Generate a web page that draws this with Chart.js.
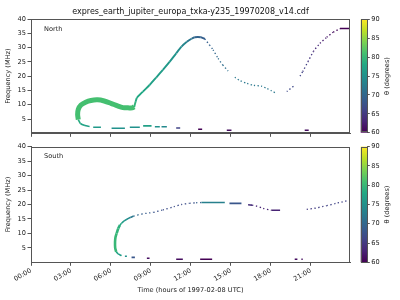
<!DOCTYPE html>
<html><head><meta charset="utf-8">
<script src="https://cdn.jsdelivr.net/npm/chart.js@4"></script>
<style>
html,body{margin:0;padding:0;background:#fff;width:400px;height:300px;overflow:hidden}
canvas{position:absolute}
</style></head><body>
<canvas id="cN" style="left:0;top:0" width="355" height="140"></canvas>
<canvas id="bN" style="left:355px;top:0" width="45" height="150"></canvas>
<canvas id="cS" style="left:0;top:140px" width="355" height="160"></canvas>
<canvas id="bS" style="left:355px;top:140px" width="45" height="160"></canvas>
<script>
// ---------- data (time in hours, frequency in MHz, theta in degrees) ----------
const titleText = 'expres_earth_jupiter_europa_txka-y235_19970208_v14.cdf';
const timeTickValues = [0, 3, 6, 9, 12, 15, 18, 21];
const timeTickLabels = ['00:00', '03:00', '06:00', '09:00', '12:00', '15:00', '18:00', '21:00'];
const freqTicks = [5, 10, 15, 20, 25, 30, 35, 40];
const thetaTicks = [60, 65, 70, 75, 80, 85, 90];

// North: thick loop
const nLoopTime  = [3.55, 3.5, 3.55, 3.75, 4.1, 4.5, 5.0, 5.5, 6.0, 6.5, 6.9, 7.3, 7.6, 7.75];
const nLoopFreq  = [4.8, 6.6, 8.4, 9.9, 10.9, 11.5, 11.7, 11.3, 10.5, 9.6, 9.0, 8.9, 8.9, 9.3];
const nLoopTheta = [81, 81, 81, 81, 81, 81, 81, 81, 81, 81, 81, 81, 81, 81];
// North: rising arc and peak
const nArcTime  = [7.75, 7.85, 7.95, 8.4, 8.9, 9.4, 9.9, 10.4, 10.9, 11.3, 11.7, 12.05, 12.3, 12.75, 13.05];
const nArcFreq  = [9.2, 11.0, 12.4, 14.6, 16.9, 19.5, 22.2, 25.0, 28.0, 30.3, 32.0, 33.1, 33.6, 33.6, 33.0];
const nArcTheta = [80, 79, 78, 78, 77, 77, 76, 76, 75, 74, 73, 71, 70, 69, 69];
// North: sparse (dotted) descent and right-hand rise
const nDotTime  = [13.05, 13.4, 13.67, 14.05, 14.4, 14.8, null, 15.3, 15.7, 16.2, 16.7, 17.3, 17.7, 18.05, 18.4, null, 19.2, 19.8, null, 20.2, 20.4, 20.8, 21.2, 21.7, 22.2, 22.7, 23.2];
const nDotFreq  = [33.0, 30.9, 29.2, 26.2, 23.9, 21.8, null, 19.6, 18.4, 17.5, 16.8, 16.5, 15.7, 14.9, 14.0, null, 14.6, 16.8, null, 20.0, 21.6, 25.1, 28.6, 31.5, 33.6, 35.4, 36.6];
const nDotTheta = [69, 69, 70, 70, 71, 71, null, 72, 72, 72, 72, 72, 72, 72, 72, null, 67, 66, null, 66, 66, 65, 64, 63, 62, 61, 60];
// North: low-frequency tail and short dashes, top-right flat
const nDashTime  = [3.55, 3.7, 4.05, 4.4, null, 4.67, 5.25, null, 6.05, 7.05, null, 7.42, 8.17, null, 8.42, 9.05, null, 9.3, 9.67, null, 9.8, 10.2, null, 10.9, 11.2, null, 12.55, 12.85, null, 14.7, 15.05, null, 20.55, 20.85, null, 23.2, 23.9];
const nDashFreq  = [4.8, 3.5, 2.7, 2.4, null, 2.1, 2.1, null, 1.75, 1.75, null, 2.1, 2.1, null, 2.6, 2.6, null, 2.3, 2.3, null, 2.3, 2.3, null, 1.85, 1.85, null, 1.4, 1.4, null, 1.05, 1.05, null, 1.05, 1.05, null, 36.7, 36.7];
const nDashTheta = [79, 78, 77, 77, null, 76, 76, null, 75, 75, null, 75, 75, null, 77, 77, null, 75, 75, null, 74, 74, null, 66, 66, null, 60, 60, null, 61, 61, null, 61, 61, null, 60, 60];

// South: thick vertical part
const sThickTime  = [6.4, 6.32, 6.31, 6.34, 6.43, 6.55, 6.68];
const sThickFreq  = [3.6, 5.0, 7.0, 8.6, 10.0, 11.7, 12.9];
const sThickTheta = [80, 80, 80, 80, 80, 79, 79];
// South: solid thin pieces
const sSolidTime  = [6.4, 6.55, 6.8, null, 7.05, 7.2, null, 7.55, 7.8, null, 8.7, 8.9, null, 10.9, 11.4, null, 12.7, 13.6, null, 19.8, 20.0, null, 20.3, 20.4, null, 6.68, 6.8, 7.0, 7.2, 7.45, 7.7, null, 12.8, 14.55, null, 14.9, 15.8, null, 16.3, 16.6, null, 18.05, 18.7];
const sSolidFreq  = [3.6, 2.9, 2.3, null, 2.07, 2.07, null, 1.7, 1.7, null, 1.4, 1.4, null, 1.05, 1.05, null, 1.05, 1.05, null, 1.05, 1.05, null, 1.05, 1.05, null, 12.9, 13.5, 14.3, 14.9, 15.5, 16.0, null, 20.7, 20.7, null, 20.4, 20.4, null, 19.9, 19.8, null, 18.0, 18.0];
const sSolidTheta = [78, 77, 76, null, 75, 75, null, 68, 68, null, 61, 61, null, 61, 61, null, 60, 60, null, 61, 61, null, 61, 61, null, 79, 77, 76, 75, 73, 71, null, 73, 73, null, 68, 68, null, 64, 64, null, 63, 63];
// South: dotted pieces
const sDotTime  = [7.7, 8.3, 9.2, 9.9, 10.7, 11.3, 11.9, 12.4, 12.8, null, 16.6, 16.9, 17.4, 18.05, null, 20.7, 21.3, 22.2, 22.9, 23.95];
const sDotFreq  = [16.0, 16.7, 17.3, 18.1, 19.2, 20.0, 20.4, 20.6, 20.7, null, 19.8, 19.5, 18.7, 18.0, null, 18.3, 18.7, 19.6, 20.4, 21.5];
const sDotTheta = [71, 69, 68, 67, 67, 67, 67, 68, 70, null, 64, 63, 63, 63, null, 65, 65, 66, 66, 66];

// ---------- helpers ----------
const VIR = ['#440154','#482475','#414487','#355f8d','#2a788e','#21918c','#22a884','#44bf70','#7ad151','#bddf26','#fde725'];
function hex(c){return [parseInt(c.substr(1,2),16),parseInt(c.substr(3,2),16),parseInt(c.substr(5,2),16)];}
function viridis(t){
  t = Math.max(0, Math.min(1, t));
  const p = t * 10, i = Math.min(9, Math.floor(p)), f = p - i;
  const a = hex(VIR[i]), b = hex(VIR[i+1]);
  return 'rgb(' + a.map((v,k)=>Math.round(v + (b[k]-v)*f)).join(',') + ')';
}
function thetaColor(th){ return viridis((th - 60) / 30); }
function pts(ts, fs){ return ts.map((t,i)=>({x: t, y: fs[i]})); }
function ds(ts, fs, ths, width, dash){
  return {
    data: pts(ts, fs), thetas: ths, borderWidth: width, borderDash: dash || [],
    pointRadius: 0, spanGaps: false, tension: 0.25, fill: false,
    borderColor: thetaColor(ths[0]),
    segment: { borderColor: ctx => {
      const a = ths[ctx.p0DataIndex], b = ths[ctx.p1DataIndex];
      return thetaColor(((a == null ? b : a) + (b == null ? a : b)) / 2);
    } }
  };
}
const FONT = 'DejaVu Sans';
const AX = '#555';
const boxPlugin = { id: 'box', afterDraw(c){ const a = c.chartArea, x = c.ctx; x.save(); x.strokeStyle = AX; x.lineWidth = 1; x.strokeRect(Math.round(a.left)+0.5, Math.round(a.top)+0.5, Math.round(a.right-a.left)-1, Math.round(a.bottom-a.top)-1); x.restore(); } };
const labelPlugin = { id: 'panelLabel', afterDraw(c, args, o){ if(!o.text) return; const a = c.chartArea, x = c.ctx; x.save(); x.font = '6.6px "' + FONT + '"'; x.fillStyle = '#222'; x.textBaseline = 'middle'; x.fillText(o.text, a.left + 13, a.top + 10); x.restore(); } };

function mainChart(id, datasets, label, isBottom){
  return new Chart(document.getElementById(id), {
    type: 'line',
    data: { datasets },
    options: {
      responsive: false, animation: false,
      layout: { padding: { left: 0, right: 5, top: isBottom ? 6.7 : 0, bottom: 0 } },
      plugins: {
        legend: { display: false }, tooltip: { enabled: false },
        title: { display: !isBottom, text: titleText, fullSize: false, color: '#111', font: { family: FONT, size: 8, weight: 'normal' }, padding: { top: 7.6, bottom: 1.8 } },
        panelLabel: { text: label }
      },
      scales: {
        x: {
          type: 'linear', min: 0, max: 23.95,
          afterBuildTicks: s => { s.ticks = timeTickValues.map(v => ({ value: v })); },
          afterFit: s => { s.height = isBottom ? 37.7 : 6.7; s.paddingLeft = 0; s.paddingRight = 0; },
          grid: { display: true, drawOnChartArea: false, drawTicks: true, tickLength: 3.5, color: AX },
          border: { display: true, color: AX, width: 1 },
          ticks: { display: isBottom, autoSkip: false, maxRotation: 30, minRotation: 30, padding: 1, color: '#222', font: { family: FONT, size: 6.6 },
                   callback: (v) => { const i = timeTickValues.indexOf(v); return i < 0 ? '' : timeTickLabels[i]; } },
          title: { display: isBottom, text: 'Time (hours of 1997-02-08 UTC)', color: '#222', font: { family: FONT, size: 6.6 }, padding: { top: 0, bottom: 6 } }
        },
        y: {
          min: 0, max: 40,
          afterBuildTicks: s => { s.ticks = freqTicks.map(v => ({ value: v })); },
          afterFit: s => { s.width = 31; },
          grid: { display: true, drawOnChartArea: false, drawTicks: true, tickLength: 3.5, color: AX },
          border: { display: true, color: AX, width: 1 },
          ticks: { padding: 1.5, color: '#222', font: { family: FONT, size: 6.6 } },
          title: { display: true, text: 'Frequency (MHz)', color: '#222', font: { family: FONT, size: 6.6 }, padding: { top: 4, bottom: 0 } }
        }
      }
    },
    plugins: [boxPlugin, labelPlugin]
  });
}

const gradPlugin = { id: 'cbar', beforeDatasetsDraw(c){ const a = c.chartArea, x = c.ctx; const g = x.createLinearGradient(0, a.bottom, 0, a.top); VIR.forEach((col, i) => g.addColorStop(i / 10, col)); x.save(); x.fillStyle = g; x.fillRect(a.left, a.top, a.right - a.left, a.bottom - a.top); x.restore(); },
  afterDraw(c){ const a = c.chartArea, x = c.ctx; x.save(); x.font = '6.6px "' + FONT + '"'; x.fillStyle = '#222'; x.translate(32.5, (a.top + a.bottom) / 2); x.rotate(-Math.PI / 2); x.textAlign = 'center'; x.textBaseline = 'middle'; x.fillText('\u03b8 (degrees)', 0, 0); x.restore(); } };

function colorbar(id, isBottom){
  const top = isBottom ? 6.7 : 19.3, bottom = isBottom ? 37.7 : 17.3;
  return new Chart(document.getElementById(id), {
    type: 'scatter',
    data: { datasets: [{ data: [] }] },
    options: {
      responsive: false, animation: false,
      layout: { padding: { left: 5.7, right: 0, top, bottom } },
      plugins: { legend: { display: false }, tooltip: { enabled: false } },
      scales: {
        x: { display: false, min: 0, max: 1 },
        y: {
          position: 'right', min: 60, max: 90,
          afterBuildTicks: s => { s.ticks = thetaTicks.map(v => ({ value: v })); },
          afterFit: s => { s.width = 45 - 12.3; },
          grid: { display: true, drawOnChartArea: false, drawTicks: true, tickLength: 2.5, color: AX },
          border: { display: true, color: AX, width: 1 },
          ticks: { padding: 1.5, color: '#222', font: { family: FONT, size: 6.6 } }
        }
      }
    },
    plugins: [gradPlugin, boxPlugin]
  });
}

mainChart('cN', [
  ds(nDashTime, nDashFreq, nDashTheta, 1.6),
  ds(nDotTime, nDotFreq, nDotTheta, 1.3, [1.3, 2.2]),
  ds(nArcTime, nArcFreq, nArcTheta, 1.9),
  ds(nLoopTime, nLoopFreq, nLoopTheta, 5)
], 'North', false);
colorbar('bN', false);
mainChart('cS', [
  ds(sSolidTime, sSolidFreq, sSolidTheta, 1.6),
  ds(sDotTime, sDotFreq, sDotTheta, 1.3, [1.3, 2.5]),
  ds(sThickTime, sThickFreq, sThickTheta, 2.6)
], 'South', true);
colorbar('bS', true);
</script>
</body></html>
